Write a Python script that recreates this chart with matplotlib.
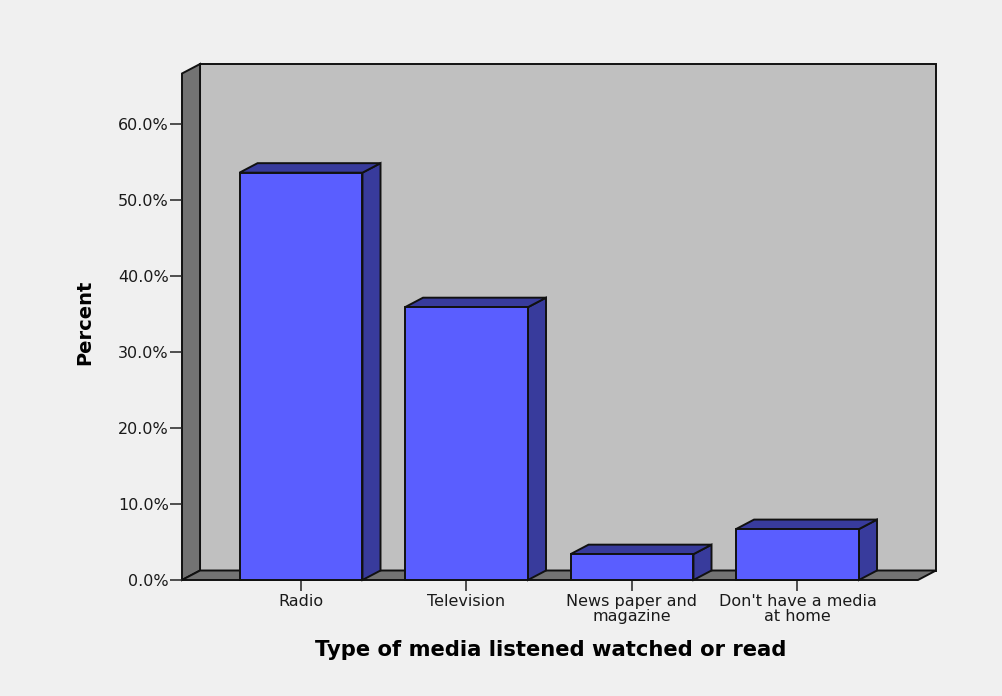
import matplotlib
matplotlib.use("Agg")
import matplotlib.pyplot as plt
from matplotlib.patches import Polygon

# values (percent)
categories = ["Radio", "Television", "News paper and\nmagazine", "Don't have a media\nat home"]
percents = [53.6, 35.9, 3.4, 6.7]
yticks = [0, 10, 20, 30, 40, 50, 60]

front_col = "#5a5eff"
shade_col = "#383b9c"
wall_col = "#c0c0c0"
floor_col = "#737373"
edge_col = "#111111"

fig = plt.figure(figsize=(10.03, 6.96), dpi=100)
fig.patch.set_facecolor("#f0f0f0")
ax = fig.add_axes([182 / 1003, 1 - 580 / 696, (936 - 182) / 1003, (580 - 64) / 696])
ax.set_facecolor("none")

x0, x1 = -0.719, 3.837
ytop = 67.9
dx, dy = 0.109, 1.25
w = 0.743
lw = 1.4

ax.set_xlim(x0, x1)
ax.set_ylim(0, ytop)

# back wall, side wall and floor of the 3d box
ax.add_patch(Polygon([(x0 + dx, dy), (x1, dy), (x1, ytop), (x0 + dx, ytop)],
                     closed=True, fc=wall_col, ec=edge_col, lw=lw, clip_on=False))
ax.add_patch(Polygon([(x0, 0), (x0, ytop - dy), (x0 + dx, ytop), (x0 + dx, dy)],
                     closed=True, fc=floor_col, ec=edge_col, lw=lw, clip_on=False))
ax.add_patch(Polygon([(x0, 0), (x1 - dx, 0), (x1, dy), (x0 + dx, dy)],
                     closed=True, fc=floor_col, ec=edge_col, lw=lw, clip_on=False))

xs = list(range(len(categories)))
for x, v in zip(xs, percents):
    l, r = x - w / 2, x + w / 2
    ax.add_patch(Polygon([(r, 0), (r + dx, dy), (r + dx, v + dy), (r, v)],
                         closed=True, fc=shade_col, ec=edge_col, lw=lw, clip_on=False, zorder=3))
    ax.add_patch(Polygon([(l, v), (r, v), (r + dx, v + dy), (l + dx, v + dy)],
                         closed=True, fc=shade_col, ec=edge_col, lw=lw, clip_on=False, zorder=3))
ax.bar(xs, percents, width=w, color=front_col, edgecolor=edge_col, linewidth=lw, zorder=4, clip_on=False)

for s in ax.spines.values():
    s.set_visible(False)

ax.set_yticks(yticks)
ax.set_yticklabels([f"{t:.1f}%" for t in yticks])
ax.set_xticks(xs)
ax.set_xticklabels(categories, linespacing=1.05)
ax.tick_params(axis="y", length=8.6, width=1.1, color="#222222", pad=1, labelsize=11.5, labelcolor="#1a1a1a")
ax.tick_params(axis="x", length=8, width=1.1, color="#222222", pad=2, labelsize=11.5, labelcolor="#1a1a1a")

ax.set_ylabel("Percent", fontsize=14, fontweight="bold", labelpad=17)
ax.set_xlabel("Type of media listened watched or read", fontsize=15.2, fontweight="bold")
ax.xaxis.set_label_coords(0.4887, -0.116)

fig.savefig("out.png", dpi=100, facecolor=fig.get_facecolor())
plt.close(fig)
